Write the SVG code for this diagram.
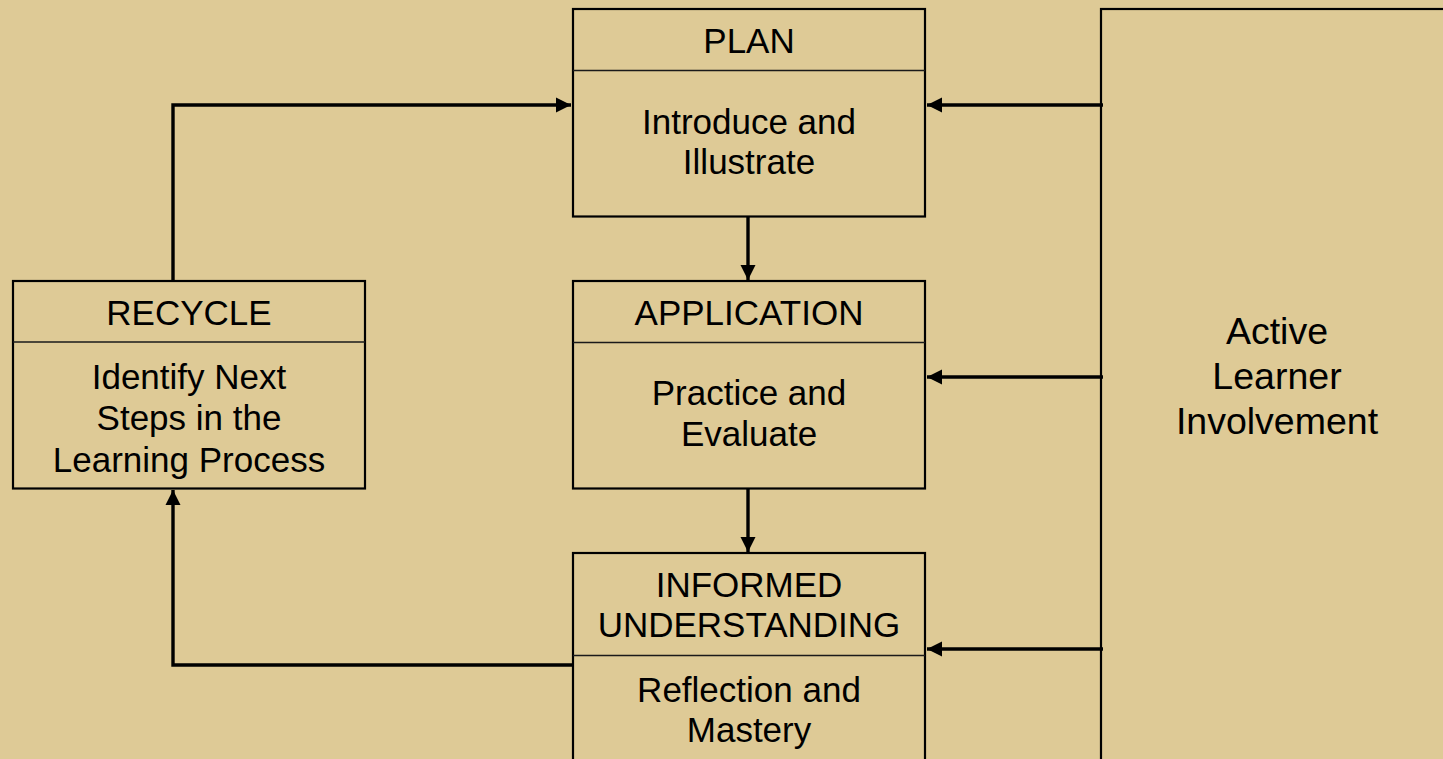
<svg xmlns="http://www.w3.org/2000/svg" width="1443" height="759" viewBox="0 0 1443 759">
<style>
.box{fill:none;stroke:#000;stroke-width:2.2}
.div{stroke:#1a1a1a;stroke-width:1.5}
.t{font-family:"Liberation Sans",Arial,sans-serif;font-size:35px;fill:#000;text-anchor:middle}
.big{font-size:37.5px}
.c{fill:none;stroke:#000;stroke-width:3.4;marker-end:url(#ah)}
</style>
<defs>
<marker id="ah" markerUnits="userSpaceOnUse" markerWidth="16" markerHeight="16" viewBox="0 0 16 16" refX="15" refY="8" orient="auto">
<path d="M0,0.5 L15,8 L0,15.5 Z" fill="#000"/>
</marker>
</defs>
<rect width="1443" height="759" fill="#DECA96"/>
<g id="connectors">
<path class="c" d="M748,217 V280"/>
<path class="c" d="M748,489 V552"/>
<path class="c" d="M1103,105 H927"/>
<path class="c" d="M1103,377 H927"/>
<path class="c" d="M1103,649 H927"/>
<path class="c" d="M173,282 V105 H571"/>
<path class="c" d="M574,665 H173 V490"/>
</g>
<g id="plan">
<rect class="box" x="573" y="9" width="352" height="207.5"/>
<line class="div" x1="573" y1="70.5" x2="925" y2="70.5"/>
<text class="t" x="749" y="53">PLAN</text>
<text class="t" x="749" y="134">Introduce and</text>
<text class="t" x="749" y="174">Illustrate</text>
</g>
<g id="application">
<rect class="box" x="573" y="281" width="352" height="207.5"/>
<line class="div" x1="573" y1="342.5" x2="925" y2="342.5"/>
<text class="t" x="749" y="325">APPLICATION</text>
<text class="t" x="749" y="405">Practice and</text>
<text class="t" x="749" y="446">Evaluate</text>
</g>
<g id="informed">
<rect class="box" x="573" y="553" width="352" height="220"/>
<line class="div" x1="573" y1="655.5" x2="925" y2="655.5"/>
<text class="t" x="749" y="597">INFORMED</text>
<text class="t" x="749" y="637">UNDERSTANDING</text>
<text class="t" x="749" y="702">Reflection and</text>
<text class="t" x="749" y="742">Mastery</text>
</g>
<g id="recycle">
<rect class="box" x="13" y="281" width="352" height="207.5"/>
<line class="div" x1="13" y1="342" x2="365" y2="342"/>
<text class="t" x="189" y="325">RECYCLE</text>
<text class="t" x="189" y="389">Identify Next</text>
<text class="t" x="189" y="430">Steps in the</text>
<text class="t" x="189" y="472">Learning Process</text>
</g>
<g id="active">
<rect class="box" x="1101" y="9" width="360" height="770"/>
<text class="t big" x="1277" y="344">Active</text>
<text class="t big" x="1277" y="389">Learner</text>
<text class="t big" x="1277" y="434">Involvement</text>
</g>
</svg>
